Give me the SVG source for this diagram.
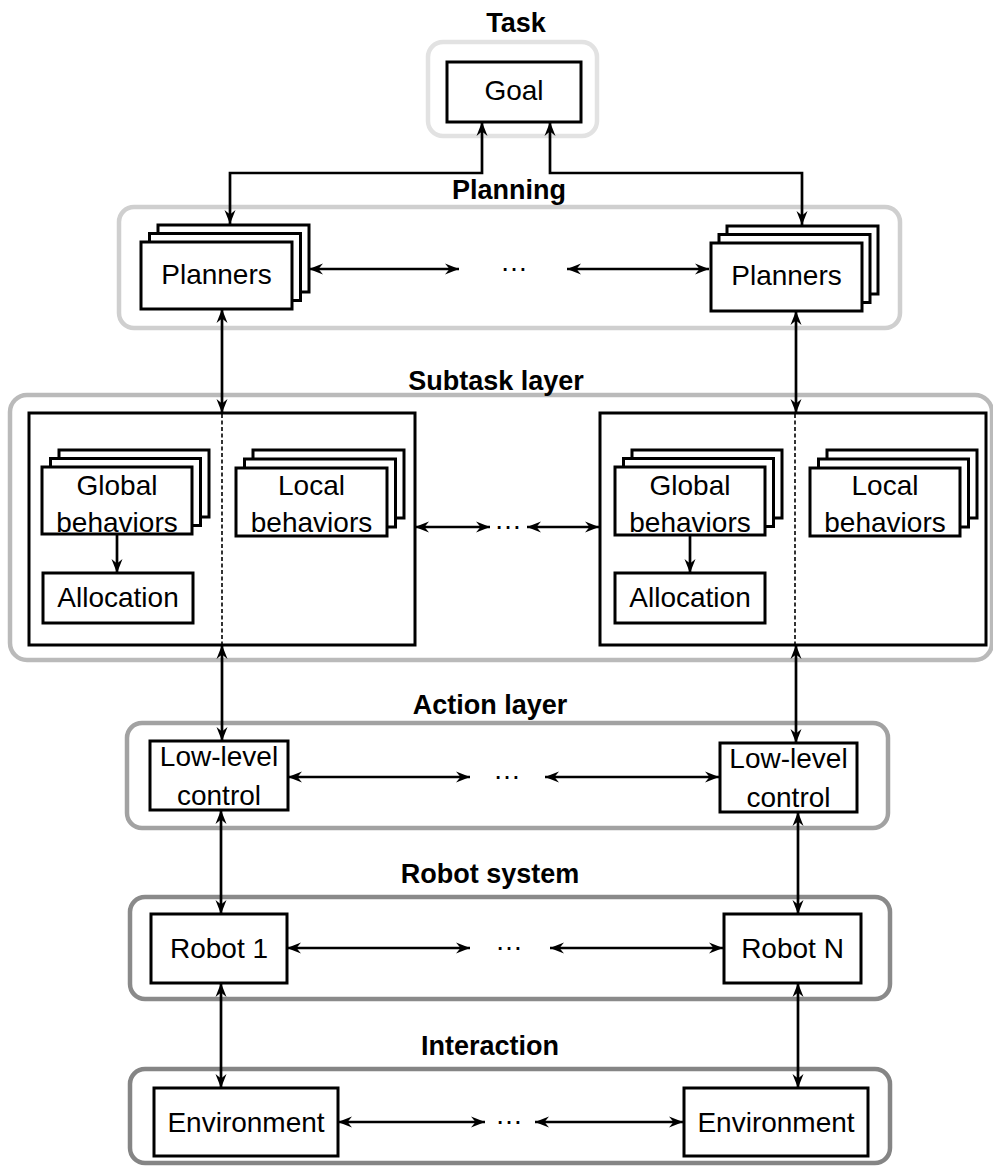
<svg xmlns="http://www.w3.org/2000/svg" width="993" height="1167" viewBox="0 0 993 1167">
  <style>
    .title { font-family: "Liberation Sans", Arial, sans-serif; font-weight: bold; font-size: 27px; text-anchor: middle; fill: #000; }
    .lbl { font-family: "Liberation Sans", Arial, sans-serif; font-size: 28px; text-anchor: middle; fill: #000; }
    .dots { font-family: "Liberation Sans", Arial, sans-serif; font-size: 28px; text-anchor: middle; fill: #000; }
    .box { fill: #fff; stroke: #000; stroke-width: 3; }
    .frame { fill: none; stroke-width: 4.5; }
    .conn { fill: none; stroke: #000; stroke-width: 2.7; marker-start: url(#head); marker-end: url(#head); }
    .one { fill: none; stroke: #000; stroke-width: 2.7; marker-end: url(#head); }
    .divider { stroke: #000; stroke-width: 1.6; stroke-dasharray: 4 2.5; }
  </style>
  <defs>
    <marker id="head" markerUnits="userSpaceOnUse" markerWidth="17" markerHeight="14" refX="14" refY="7" orient="auto-start-reverse">
      <path d="M0,1.5 L14,7 L0,12.5 L4.5,7 Z" fill="#000"/>
    </marker>
  </defs>

  <!-- layer frames -->
  <g id="layer-task">
    <rect class="frame" x="428" y="42" width="169" height="94" rx="15" stroke="#e2e2e2"/>
    <text class="title" x="516" y="32">Task</text>
  </g>
  <g id="layer-planning">
    <rect class="frame" x="119" y="207" width="781" height="121" rx="15" stroke="#cfcfcf"/>
    <text class="title" x="509" y="199">Planning</text>
  </g>
  <g id="layer-subtask">
    <rect class="frame" x="10" y="395" width="982" height="265" rx="17" stroke="#bababa"/>
    <text class="title" x="496" y="390">Subtask layer</text>
  </g>
  <g id="layer-action">
    <rect class="frame" x="127" y="723" width="761" height="105" rx="15" stroke="#a2a2a2"/>
    <text class="title" x="490" y="714">Action layer</text>
  </g>
  <g id="layer-robot">
    <rect class="frame" x="130" y="897" width="760" height="102" rx="15" stroke="#8a8a8a"/>
    <text class="title" x="490" y="883">Robot system</text>
  </g>
  <g id="layer-interaction">
    <rect class="frame" x="130" y="1069" width="760" height="94" rx="15" stroke="#858585"/>
    <text class="title" x="490" y="1055">Interaction</text>
  </g>

  <!-- nodes -->
  <g id="goal">
    <rect class="box" x="447" y="62" width="134" height="60"/>
    <text class="lbl" x="514" y="100">Goal</text>
  </g>

  <g id="planners-1">
    <rect class="box" x="158" y="225" width="151" height="67"/>
    <rect class="box" x="149.5" y="233.5" width="151" height="67"/>
    <rect class="box" x="141" y="242" width="151" height="67"/>
    <text class="lbl" x="216.5" y="284">Planners</text>
  </g>
  <g id="planners-n">
    <rect class="box" x="727" y="226" width="151" height="68"/>
    <rect class="box" x="719" y="234.5" width="151" height="68"/>
    <rect class="box" x="711" y="243" width="151" height="68"/>
    <text class="lbl" x="786.5" y="285">Planners</text>
  </g>

  <g id="subtask-1">
    <rect class="box" x="29" y="413" width="386" height="232"/>
    <line class="divider" x1="222" y1="414" x2="222" y2="644"/>
  </g>
  <g id="global-1">
    <rect class="box" x="59" y="450" width="150" height="67"/>
    <rect class="box" x="50.5" y="458.5" width="150" height="67"/>
    <rect class="box" x="42" y="467" width="150" height="67"/>
    <text class="lbl" x="117" y="495">Global</text>
    <text class="lbl" x="117" y="532">behaviors</text>
  </g>
  <g id="allocation-1">
    <rect class="box" x="43" y="573" width="150" height="50"/>
    <text class="lbl" x="118" y="607">Allocation</text>
  </g>
  <g id="local-1">
    <rect class="box" x="253" y="450" width="151" height="68"/>
    <rect class="box" x="244.5" y="459" width="151" height="68"/>
    <rect class="box" x="236" y="468" width="151" height="68"/>
    <text class="lbl" x="311.5" y="495">Local</text>
    <text class="lbl" x="311.5" y="532">behaviors</text>
  </g>

  <g id="subtask-n">
    <rect class="box" x="600" y="413" width="386" height="232"/>
    <line class="divider" x1="795" y1="414" x2="795" y2="644"/>
  </g>
  <g id="global-n">
    <rect class="box" x="632" y="450" width="150" height="68"/>
    <rect class="box" x="623.5" y="458.5" width="150" height="68"/>
    <rect class="box" x="615" y="467" width="150" height="68"/>
    <text class="lbl" x="690" y="495">Global</text>
    <text class="lbl" x="690" y="532">behaviors</text>
  </g>
  <g id="allocation-n">
    <rect class="box" x="615" y="573" width="150" height="50"/>
    <text class="lbl" x="690" y="607">Allocation</text>
  </g>
  <g id="local-n">
    <rect class="box" x="827" y="450" width="150" height="68"/>
    <rect class="box" x="818.5" y="459" width="150" height="68"/>
    <rect class="box" x="810" y="468" width="150" height="68"/>
    <text class="lbl" x="885" y="495">Local</text>
    <text class="lbl" x="885" y="532">behaviors</text>
  </g>

  <g id="control-1">
    <rect class="box" x="150" y="741" width="138" height="69"/>
    <text class="lbl" x="219" y="766">Low-level</text>
    <text class="lbl" x="219" y="805">control</text>
  </g>
  <g id="control-n">
    <rect class="box" x="720" y="743" width="137" height="69"/>
    <text class="lbl" x="788.5" y="768">Low-level</text>
    <text class="lbl" x="788.5" y="807">control</text>
  </g>

  <g id="robot-1">
    <rect class="box" x="151" y="914" width="136" height="69"/>
    <text class="lbl" x="219" y="958">Robot 1</text>
  </g>
  <g id="robot-n">
    <rect class="box" x="724" y="914" width="137" height="69"/>
    <text class="lbl" x="792.5" y="958">Robot N</text>
  </g>

  <g id="environment-1">
    <rect class="box" x="154" y="1088" width="184" height="68"/>
    <text class="lbl" x="246" y="1132">Environment</text>
  </g>
  <g id="environment-n">
    <rect class="box" x="684" y="1088" width="184" height="68"/>
    <text class="lbl" x="776" y="1132">Environment</text>
  </g>

  <!-- ellipses between peer columns -->
  <g id="ellipses">
    <text class="dots" x="514" y="271">…</text>
    <text class="dots" x="508" y="529">…</text>
    <text class="dots" x="507" y="779">…</text>
    <text class="dots" x="509" y="950">…</text>
    <text class="dots" x="509" y="1124">…</text>
  </g>

  <!-- connectors -->
  <g id="connectors">
    <!-- goal to planners -->
    <path class="conn" d="M482,122 V173 H230 V224"/>
    <path class="conn" d="M550,122 V173 H802 V225"/>
    <!-- planning row -->
    <line class="conn" x1="309" y1="269" x2="459" y2="269"/>
    <line class="conn" x1="567" y1="269" x2="709" y2="269"/>
    <!-- planners to subtask -->
    <line class="conn" x1="222" y1="309" x2="222" y2="413"/>
    <line class="conn" x1="796" y1="311" x2="796" y2="413"/>
    <!-- subtask row -->
    <line class="conn" x1="415" y1="527" x2="490" y2="527"/>
    <line class="conn" x1="527" y1="527" x2="599" y2="527"/>
    <!-- global behaviors to allocation -->
    <line class="one" x1="117" y1="534" x2="117" y2="573"/>
    <line class="one" x1="690" y1="535" x2="690" y2="573"/>
    <!-- subtask to action -->
    <line class="conn" x1="222" y1="645" x2="222" y2="741"/>
    <line class="conn" x1="796" y1="645" x2="796" y2="743"/>
    <!-- action row -->
    <line class="conn" x1="288" y1="777" x2="470" y2="777"/>
    <line class="conn" x1="545" y1="777" x2="719" y2="777"/>
    <!-- action to robots -->
    <line class="conn" x1="221" y1="810" x2="221" y2="914"/>
    <line class="conn" x1="798" y1="812" x2="798" y2="914"/>
    <!-- robot row -->
    <line class="conn" x1="287" y1="948" x2="470" y2="948"/>
    <line class="conn" x1="550" y1="948" x2="723" y2="948"/>
    <!-- robots to environment -->
    <line class="conn" x1="221" y1="983" x2="221" y2="1088"/>
    <line class="conn" x1="798" y1="983" x2="798" y2="1088"/>
    <!-- interaction row -->
    <line class="conn" x1="338" y1="1122" x2="485" y2="1122"/>
    <line class="conn" x1="535" y1="1122" x2="683" y2="1122"/>
  </g>
</svg>
